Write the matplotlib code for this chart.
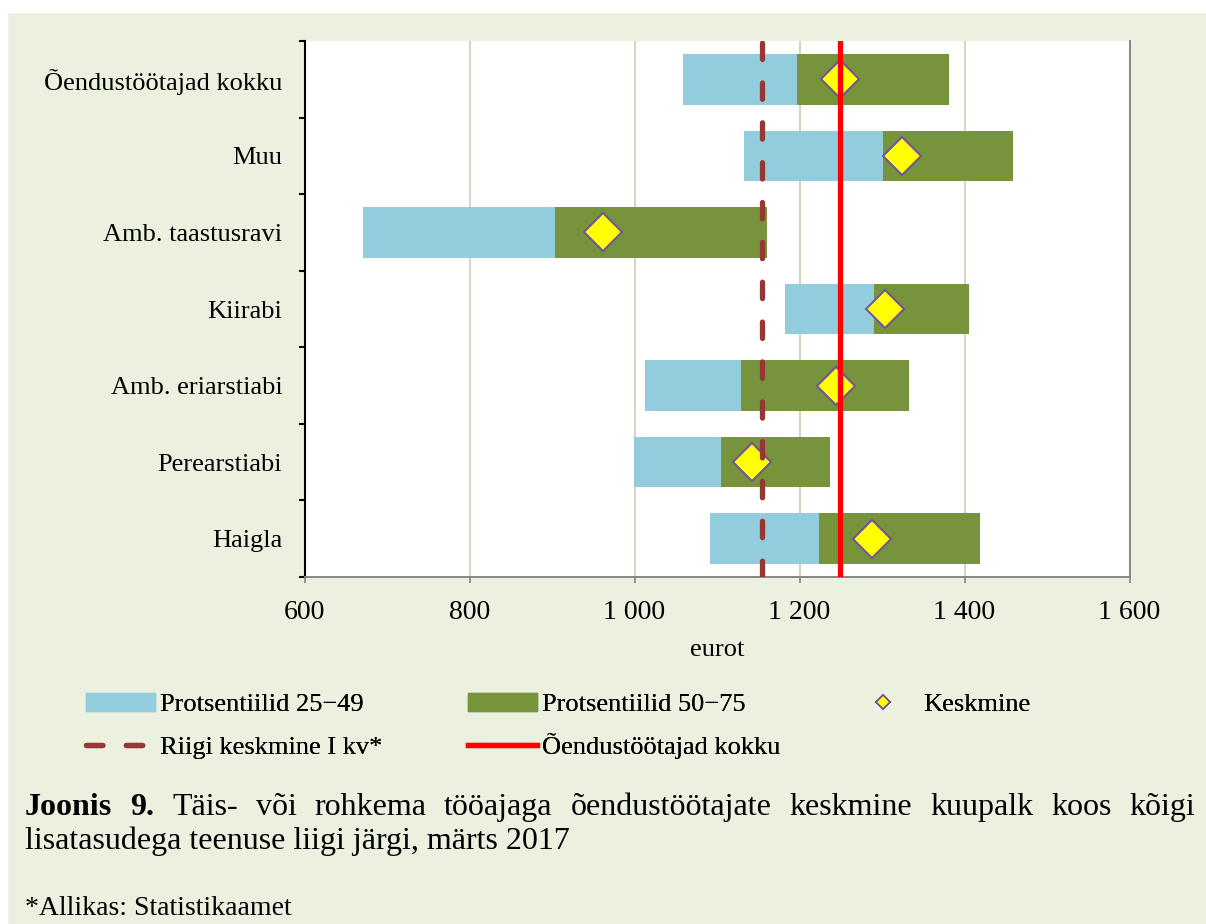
import matplotlib
matplotlib.use("Agg")
import numpy as np
import matplotlib.pyplot as plt
from matplotlib.lines import Line2D
from matplotlib.patches import Patch, Rectangle
from matplotlib.ticker import FuncFormatter

# data, bottom row first
categories = ["Haigla", "Perearstiabi", "Amb. eriarstiabi", "Kiirabi",
              "Amb. taastusravi", "Muu", "Õendustöötajad kokku"]
p25 = [1092, 999, 1013, 1182, 671, 1133, 1059]
median = [1224, 1105, 1129, 1290, 904, 1301, 1197]
p75 = [1419, 1237, 1333, 1405, 1161, 1459, 1381]
mean = [1288, 1142, 1244, 1304, 962, 1324, 1249]
riigi_keskmine = 1154
oendus_kokku = 1249
xticks = [600, 800, 1000, 1200, 1400, 1600]

BG = "#EBF1DE"
BLUE = "#93CDDD"
GREEN = "#77933C"
DARKRED = "#953735"
W, H = 1206, 924

plt.rcParams["font.family"] = ["Liberation Serif", "DejaVu Serif"]

fig = plt.figure(figsize=(W / 100, H / 100), dpi=100, facecolor=BG)
# white strips at top and left edge
fig.patches.append(Rectangle((0, 1 - 12 / H), 1, 12 / H, transform=fig.transFigure,
                             color="white", zorder=0))
fig.patches.append(Rectangle((0, 0), 7 / W, 1, transform=fig.transFigure,
                             color="white", zorder=0))

ax = fig.add_axes([304.5 / W, 1 - 577 / H, (1129.5 - 304.5) / W, (577 - 41) / H])
ax.set_facecolor("white")

y = np.arange(len(categories))
p25a, meda, p75a = np.array(p25), np.array(median), np.array(p75)
ax.barh(y, meda - p25a, left=p25a, height=0.66, color=BLUE, zorder=2)
ax.barh(y, p75a - meda, left=meda, height=0.66, color=GREEN, zorder=2)
ax.plot(mean, y, ls="none", marker="D", ms=19, mfc="#FFFF00", mec="#7050A0",
        mew=1.4, zorder=3)
ax.axvline(riigi_keskmine, color=DARKRED, lw=3.8, ls=(0, (3.1, 4.45)),
           dash_capstyle="round", zorder=4)
ax.axvline(oendus_kokku, color="#FF0000", lw=3.8, zorder=4)

ax.set_xlim(600, 1600)
ax.set_ylim(-0.5, 6.5)
ax.set_xticks(xticks)
ax.xaxis.set_major_formatter(FuncFormatter(lambda v, p: f"{int(v):,}".replace(",", " ")))
ax.tick_params(axis="x", direction="out", length=4.5, width=1.2, color="#868686",
               labelsize=20, pad=12)
ax.xaxis.grid(True, color="#D8D4BE", lw=1.5, zorder=0)
ax.set_axisbelow(True)

ax.set_yticks(np.arange(-0.5, 7, 1))
ax.set_yticklabels([])
ax.set_yticks(y, minor=True)
ax.set_yticklabels(categories, minor=True, fontsize=19)
ax.tick_params(axis="y", which="major", direction="out", length=4.5, width=1.5, color="black")
ax.tick_params(axis="y", which="minor", length=0, pad=16)

ax.spines["top"].set_visible(False)
ax.spines["left"].set_color("black")
ax.spines["left"].set_linewidth(1.5)
for s in ["bottom", "right"]:
    ax.spines[s].set_color("#868686")
    ax.spines[s].set_linewidth(1.4)

ax.set_xlabel("eurot", fontsize=19, labelpad=10)

# legend entries placed one by one so rows line up
leg_kw = dict(frameon=False, fontsize=19, loc="lower left", borderpad=0, borderaxespad=0,
              handlelength=2.6, handletextpad=0.2)
entries = [
    (Patch(color=BLUE), "Protsentiilid 25−49", 86, 716),
    (Patch(color=GREEN), "Protsentiilid 50−75", 468, 716),
    (Line2D([], [], ls="none", marker="D", ms=7.5, mfc="#FFFF00", mec="#7050A0", mew=1.2),
     "Keskmine", 849, 716),
    (Line2D([], [], color=DARKRED, lw=3.8, ls=(0, (3.1, 4.45)), dash_capstyle="round"),
     "Riigi keskmine I kv*", 86, 759),
    (Line2D([], [], color="#FF0000", lw=3.8), "Õendustöötajad kokku", 468, 759),
]
for h, lab, lx, ly in entries:
    lg = fig.legend([h], [lab], bbox_to_anchor=(lx / W, 1 - ly / H), **leg_kw)
    fig.add_artist(lg)

# caption, first line justified
fig.canvas.draw()
renderer = fig.canvas.get_renderer()
line1 = [("Joonis", "bold"), ("9.", "bold")] + [(w, "normal") for w in
         "Täis- või rohkema tööajaga õendustöötajate keskmine kuupalk koos kõigi".split()]
texts = []
for w, wt in line1:
    t = fig.text(0, 1 - 815 / H, w, fontsize=23, fontweight=wt, va="baseline", ha="left")
    texts.append(t)
widths = [t.get_window_extent(renderer).width for t in texts]
x0, x1 = 25, 1195
gap = (x1 - x0 - sum(widths)) / (len(texts) - 1)
x = x0
for t, wd in zip(texts, widths):
    t.set_x(x / W)
    x += wd + gap

fig.text(25 / W, 1 - 849 / H, "lisatasudega teenuse liigi järgi, märts 2017",
         fontsize=23, va="baseline", ha="left")
fig.text(25 / W, 1 - 915 / H, "*Allikas: Statistikaamet", fontsize=20,
         va="baseline", ha="left")

fig.savefig("out.png", dpi=100, facecolor=BG)
